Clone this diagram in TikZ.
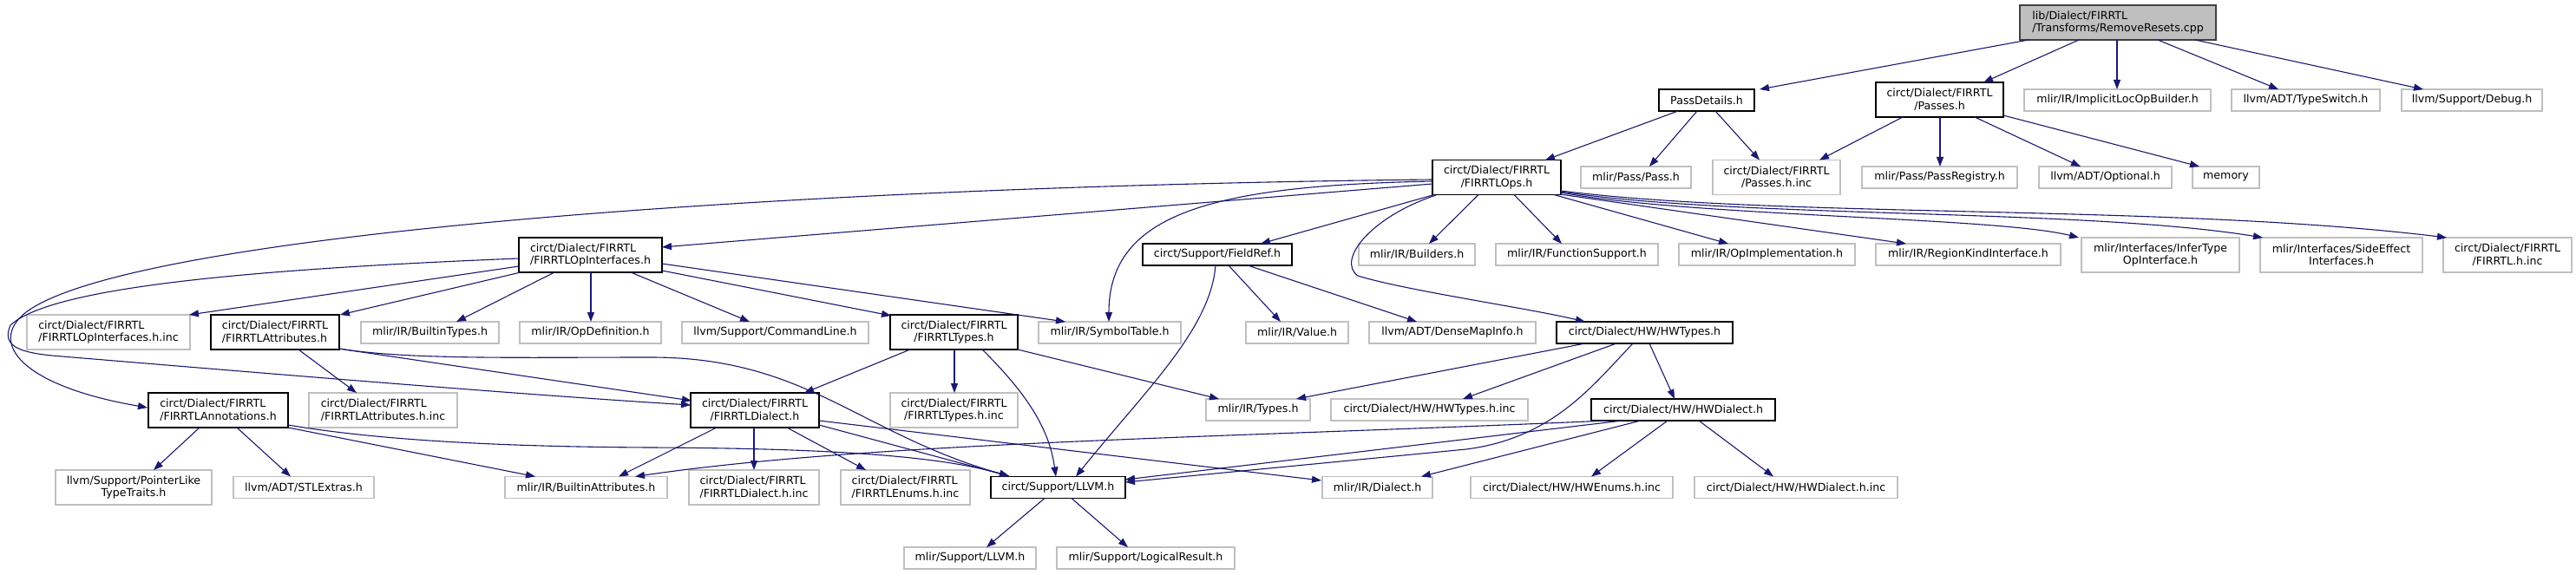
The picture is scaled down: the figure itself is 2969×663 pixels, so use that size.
\documentclass[tikz,border=0pt]{standalone}
\usepackage{fontspec}
\setmainfont{DejaVu Sans}
\usetikzlibrary{arrows.meta,calc}
\definecolor{edgec}{HTML}{191970}
\definecolor{grayb}{HTML}{BFBFBF}
\definecolor{rootb}{HTML}{404040}
\begin{document}
\begin{tikzpicture}[x=1pt,y=-1pt,
  every node/.style={font=\fontsize{12.6pt}{14.5pt}\selectfont, inner sep=0pt, outer sep=0pt},
  doc/.style={draw=black, fill=white, line width=1.3pt},
  ext/.style={draw=grayb, fill=white, line width=1.3pt},
  rootn/.style={draw=rootb, fill=grayb, line width=1.3pt},
  sone/.style={minimum height=25pt},
  stwo/.style={minimum height=40pt},
  e/.style={draw=edgec, line width=1.1pt, -{Triangle[length=11pt,width=8pt]}},
]
\useasboundingbox (0,0) rectangle (2969,663);
\fill[white] (0,0) rectangle (2969,663);

% row 0
\node[rootn,stwo,minimum width=226pt,align=left] (root) at (2441,26) {lib/Dialect/FIRRTL\\/Transforms/RemoveResets.cpp};
% row 1
\node[doc,sone,minimum width=110pt] (passdetails) at (1967,115.5) {PassDetails.h};
\node[doc,stwo,minimum width=147pt,align=center] (passes) at (2235.5,115) {circt/Dialect/FIRRTL\\/Passes.h};
\node[ext,sone,minimum width=215pt] (implicit) at (2440.5,115.5) {mlir/IR/ImplicitLocOpBuilder.h};
\node[ext,sone,minimum width=171pt] (typeswitch) at (2657.5,115.5) {llvm/ADT/TypeSwitch.h};
\node[ext,sone,minimum width=162pt] (debug) at (2849,115.5) {llvm/Support/Debug.h};
% row 2
\node[doc,stwo,minimum width=148pt,align=center] (ops) at (1725,204.5) {circt/Dialect/FIRRTL\\/FIRRTLOps.h};
\node[ext,sone,minimum width=127pt] (passh) at (1885.5,204.5) {mlir/Pass/Pass.h};
\node[ext,stwo,minimum width=147pt,align=center] (passesinc) at (2047.5,204.5) {circt/Dialect/FIRRTL\\/Passes.h.inc};
\node[ext,sone,minimum width=179pt] (passreg) at (2235.5,204.5) {mlir/Pass/PassRegistry.h};
\node[ext,sone,minimum width=153pt] (optional) at (2426.5,204.5) {llvm/ADT/Optional.h};
\node[ext,sone,minimum width=77pt] (memory) at (2565.5,204.5) {memory};
% row 3
\node[doc,stwo,minimum width=165pt,align=left] (opif) at (680.5,294) {circt/Dialect/FIRRTL\\/FIRRTLOpInterfaces.h};
\node[doc,sone,minimum width=172pt] (fieldref) at (1403,293.5) {circt/Support/FieldRef.h};
\node[ext,sone,minimum width=134pt] (builders) at (1633,293.5) {mlir/IR/Builders.h};
\node[ext,sone,minimum width=187pt] (funcsup) at (1817.5,293.5) {mlir/IR/FunctionSupport.h};
\node[ext,sone,minimum width=203pt] (opimpl) at (2036.5,293.5) {mlir/IR/OpImplementation.h};
\node[ext,sone,minimum width=213pt] (regionkind) at (2268.5,293.5) {mlir/IR/RegionKindInterface.h};
\node[ext,stwo,minimum width=182pt,align=center] (infertype) at (2490,294) {mlir/Interfaces/InferType\\OpInterface.h};
\node[ext,stwo,minimum width=187pt,align=center] (sideeffect) at (2698.5,294) {mlir/Interfaces/SideEffect\\Interfaces.h};
\node[ext,stwo,minimum width=148pt,align=center] (firrtlinc) at (2890,294) {circt/Dialect/FIRRTL\\/FIRRTL.h.inc};
% row 4
\node[ext,stwo,minimum width=188pt,align=left] (opifinc) at (125,383) {circt/Dialect/FIRRTL\\/FIRRTLOpInterfaces.h.inc};
\node[doc,stwo,minimum width=148pt,align=left] (attrs) at (317,383) {circt/Dialect/FIRRTL\\/FIRRTLAttributes.h};
\node[ext,sone,minimum width=159pt] (builtintypes) at (495.5,383.5) {mlir/IR/BuiltinTypes.h};
\node[ext,sone,minimum width=163pt] (opdef) at (680.5,383.5) {mlir/IR/OpDefinition.h};
\node[ext,sone,minimum width=215pt] (cmdline) at (893.5,383.5) {llvm/Support/CommandLine.h};
\node[doc,stwo,minimum width=147pt,align=center] (types) at (1099.5,383) {circt/Dialect/FIRRTL\\/FIRRTLTypes.h};
\node[ext,sone,minimum width=164pt] (symtab) at (1279,383.5) {mlir/IR/SymbolTable.h};
\node[ext,sone,minimum width=118pt] (value) at (1495,383.5) {mlir/IR/Value.h};
\node[ext,sone,minimum width=192pt] (densemap) at (1674,383.5) {llvm/ADT/DenseMapInfo.h};
\node[doc,sone,minimum width=203pt] (hwtypes) at (1895.5,383.5) {circt/Dialect/HW/HWTypes.h};
% row 5
\node[doc,stwo,minimum width=161pt,align=left] (annot) at (251.5,473) {circt/Dialect/FIRRTL\\/FIRRTLAnnotations.h};
\node[ext,stwo,minimum width=171pt,align=left] (attrsinc) at (441.5,473) {circt/Dialect/FIRRTL\\/FIRRTLAttributes.h.inc};
\node[doc,stwo,minimum width=148pt,align=center] (dialect) at (870,473) {circt/Dialect/FIRRTL\\/FIRRTLDialect.h};
\node[ext,stwo,minimum width=147pt,align=center] (typesinc) at (1099.5,473) {circt/Dialect/FIRRTL\\/FIRRTLTypes.h.inc};
\node[ext,sone,minimum width=120pt] (irtypes) at (1450,472.5) {mlir/IR/Types.h};
\node[ext,sone,minimum width=227pt] (hwtypesinc) at (1647.5,472.5) {circt/Dialect/HW/HWTypes.h.inc};
\node[doc,sone,minimum width=212pt] (hwdialect) at (1940,472.5) {circt/Dialect/HW/HWDialect.h};
% row 6
\node[ext,stwo,minimum width=180pt,align=center] (pointerlike) at (154,562) {llvm/Support/PointerLike\\TypeTraits.h};
\node[ext,sone,minimum width=162pt] (stlextras) at (350,562) {llvm/ADT/STLExtras.h};
\node[ext,sone,minimum width=187pt] (builtinattr) at (675.5,562) {mlir/IR/BuiltinAttributes.h};
\node[ext,stwo,minimum width=150pt,align=left] (dialectinc) at (869,562) {circt/Dialect/FIRRTL\\/FIRRTLDialect.h.inc};
\node[ext,stwo,minimum width=149pt,align=left] (enumsinc) at (1043.5,562) {circt/Dialect/FIRRTL\\/FIRRTLEnums.h.inc};
\node[doc,sone,minimum width=155pt] (llvm) at (1219.5,562) {circt/Support/LLVM.h};
\node[ext,sone,minimum width=127pt] (irdialect) at (1587.5,562) {mlir/IR/Dialect.h};
\node[ext,sone,minimum width=233pt] (hwenums) at (1811.5,562) {circt/Dialect/HW/HWEnums.h.inc};
\node[ext,sone,minimum width=234pt] (hwdialectinc) at (2070,562) {circt/Dialect/HW/HWDialect.h.inc};
% row 7
\node[ext,sone,minimum width=152pt] (mlirllvm) at (1118,643.5) {mlir/Support/LLVM.h};
\node[ext,sone,minimum width=205pt] (logicalres) at (1320.5,643.5) {mlir/Support/LogicalResult.h};

% ---- edges ----
% root
\draw[e] ($(root)+(-103,20)$) -- ($(passdetails)+(61,-12.5)$);
\draw[e] ($(root)+(-45,20)$) -- ($(passes)+(50.5,-20)$);
\draw[e] ($(root)+(-1,20)$) -- ($(implicit)+(-0.5,-12.5)$);
\draw[e] ($(root)+(46,20)$) -- ($(typeswitch)+(-31.5,-12.5)$);
\draw[e] ($(root)+(89,20)$) -- ($(debug)+(-56,-12.5)$);
% PassDetails
\draw[e] ($(passdetails)+(-33,12.5)$) -- ($(ops)+(56,-20)$);
\draw[e] ($(passdetails)+(-11,12.5)$) -- ($(passh)+(15.5,-12.5)$);
\draw[e] ($(passdetails)+(10,12.5)$) -- ($(passesinc)+(-19.5,-20)$);
% Passes.h
\draw[e] ($(passes)+(-42.5,20)$) -- ($(passesinc)+(49.5,-20)$);
\draw[e] ($(passes)+(0.5,20)$) -- ($(passreg)+(0.5,-12.5)$);
\draw[e] ($(passes)+(40.5,20)$) -- ($(optional)+(-28.5,-12.5)$);
\draw[e] ($(passes)+(73.5,18)$) -- ($(memory)+(-30.5,-12.5)$);
% FIRRTLOps.h
\draw[e] ($(ops)+(-74,7.5)$) -- ($(opif)+(82.5,-9)$);
\draw[e] ($(ops)+(-72,20)$) -- ($(fieldref)+(50,-12.5)$);
\draw[e] ($(ops)+(-21,20)$) -- ($(builders)+(14,-12.5)$);
\draw[e] ($(ops)+(20,20)$) -- ($(funcsup)+(-17.5,-12.5)$);
\draw[e] ($(ops)+(66,20)$) -- ($(opimpl)+(-44.5,-12.5)$);
\draw[e] ($(ops)+(73,19.5)$) -- ($(regionkind)+(-71.5,-12.5)$);
\draw[e] ($(ops)+(74,17.5)$) .. controls (1950,250) and (2300,250) .. ($(infertype)+(-94,-20)$);
\draw[e] ($(ops)+(74,16.5)$) .. controls (2000,252) and (2400,240) .. ($(sideeffect)+(-90.5,-20)$);
\draw[e] ($(ops)+(74,15.5)$) .. controls (2050,252) and (2500,235) .. ($(firrtlinc)+(-70,-20)$);
\draw[e] ($(ops)+(-74,4.5)$) .. controls (1400,214) and (1278,245) .. ($(symtab)+(-1,-12.5)$);
\draw[e] ($(ops)+(-70,20.5)$) .. controls (1580,250) and (1540,300) .. (1565,318) .. controls (1620,335) and (1760,355) .. ($(hwtypes)+(-68.5,-12.5)$);
\draw[e] ($(ops)+(-74,2.5)$) .. controls (900,215) and (150,270) .. (30,360) .. controls (-15,395) and (25,445) .. ($(annot)+(-81.5,-3)$);
% FIRRTLOpInterfaces.h
\draw[e] ($(opif)+(-82.5,4)$) .. controls (300,310) and (60,330) .. (12,375) .. controls (2,398) and (20,406) .. (60,410) .. controls (300,430) and (600,455) .. ($(dialect)+(-74,-6)$);
\draw[e] ($(opif)+(-82.5,13)$) -- ($(opifinc)+(93,-20)$);
\draw[e] ($(opif)+(-80.5,20)$) -- ($(attrs)+(75,-20)$);
\draw[e] ($(opif)+(-41.5,20)$) -- ($(builtintypes)+(30.5,-12.5)$);
\draw[e] ($(opif)+(0.5,20)$) -- ($(opdef)+(0.5,-12.5)$);
\draw[e] ($(opif)+(46.5,20)$) -- ($(cmdline)+(-29.5,-12.5)$);
\draw[e] ($(opif)+(82.5,18)$) -- ($(types)+(-72.5,-19)$);
\draw[e] ($(opif)+(82.5,10)$) -- ($(symtab)+(-51,-12.5)$);
% FIRRTLAttributes.h
\draw[e] ($(attrs)+(27,20)$) -- ($(attrsinc)+(-30.5,-20)$);
\draw[e] ($(attrs)+(73,19)$) -- ($(dialect)+(-73,-11)$);
\draw[e] ($(attrs)+(74,19)$) .. controls (470,415) and (600,412) .. (750,412) .. controls (930,412) and (990,500) .. ($(llvm)+(-56.5,-13)$);
% FIRRTLAnnotations.h
\draw[e] ($(annot)+(-21.5,20)$) -- ($(pointerlike)+(23,-20)$);
\draw[e] ($(annot)+(21.5,20)$) -- ($(stlextras)+(-15,-12.5)$);
\draw[e] ($(annot)+(80.5,20)$) -- ($(builtinattr)+(-58.5,-12.5)$);
\draw[e] ($(annot)+(80.5,17)$) .. controls (420,505) and (550,515) .. (750,516) .. controls (950,517) and (1080,525) .. ($(llvm)+(-56.5,-13)$);
% FIRRTLDialect.h
\draw[e] ($(dialect)+(-44,20)$) -- ($(builtinattr)+(37.5,-12.5)$);
\draw[e] ($(dialect)+(-1,20)$) -- ($(dialectinc)+(0,-20)$);
\draw[e] ($(dialect)+(37,20)$) -- ($(enumsinc)+(-45.5,-20)$);
\draw[e] ($(dialect)+(74,17)$) -- ($(llvm)+(-56.5,-13)$);
\draw[e] ($(dialect)+(74,12)$) -- ($(irdialect)+(-64.5,-8)$);
% FIRRTLTypes.h
\draw[e] ($(types)+(-50.5,20)$) -- ($(dialect)+(57,-20)$);
\draw[e] ($(types)+(0.5,20)$) -- ($(typesinc)+(0.5,-20)$);
\draw[e] ($(types)+(32.5,20)$) .. controls (1190,460) and (1210,500) .. ($(llvm)+(-2.5,-12.5)$);
\draw[e] ($(types)+(73.5,20)$) -- ($(irtypes)+(-45,-12.5)$);
% FieldRef.h
\draw[e] ($(fieldref)+(-2,12.5)$) .. controls (1395,380) and (1320,450) .. ($(llvm)+(20.5,-12.5)$);
\draw[e] ($(fieldref)+(13,12.5)$) -- ($(value)+(-19,-12.5)$);
\draw[e] ($(fieldref)+(35,12.5)$) -- ($(densemap)+(-41,-12.5)$);
% HWTypes.h
\draw[e] ($(hwtypes)+(-68.5,12.5)$) -- ($(irtypes)+(44,-12.5)$);
\draw[e] ($(hwtypes)+(-32.5,12.5)$) -- ($(hwtypesinc)+(38.5,-12.5)$);
\draw[e] ($(hwtypes)+(-13.5,12.5)$) .. controls (1835,445) and (1790,505) .. (1690,518) -- ($(llvm)+(77.5,-6)$);
\draw[e] ($(hwtypes)+(5.5,12.5)$) -- ($(hwdialect)+(-10,-12.5)$);
% HWDialect.h
\draw[e] ($(hwdialect)+(-70,12.5)$) -- ($(llvm)+(77.5,-9)$);
\draw[e] ($(hwdialect)+(-87,12.5)$) .. controls (1400,505) and (1000,510) .. ($(builtinattr)+(56.5,-12.5)$);
\draw[e] ($(hwdialect)+(-49,12.5)$) -- ($(irdialect)+(50.5,-12.5)$);
\draw[e] ($(hwdialect)+(-18,12.5)$) -- ($(hwenums)+(22.5,-12.5)$);
\draw[e] ($(hwdialect)+(18,12.5)$) -- ($(hwdialectinc)+(-26,-12.5)$);
% circt/Support/LLVM.h
\draw[e] ($(llvm)+(-15.5,12.5)$) -- ($(mlirllvm)+(19,-12.5)$);
\draw[e] ($(llvm)+(15.5,12.5)$) -- ($(logicalres)+(-20.5,-12.5)$);
\end{tikzpicture}
\end{document}
